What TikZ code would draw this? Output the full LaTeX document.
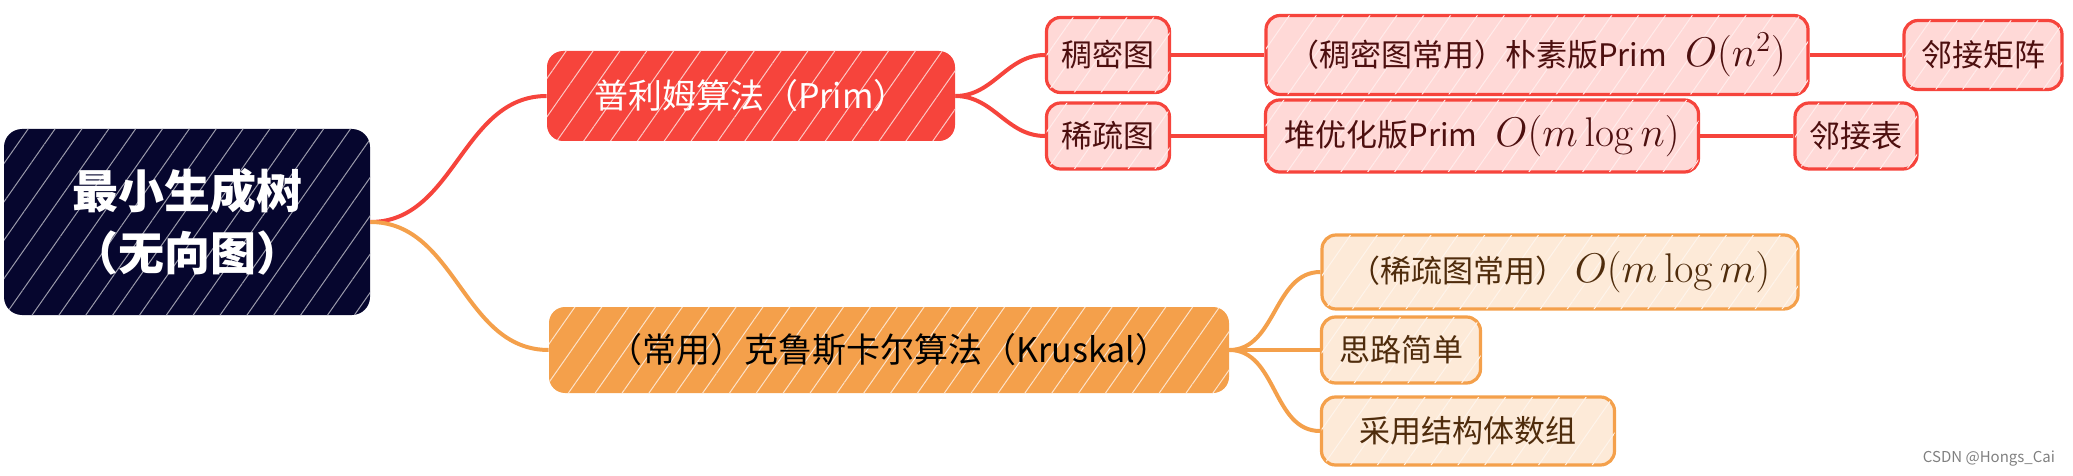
\documentclass[tikz,border=0pt]{standalone}
\usepackage[no-math]{fontspec}
\setmainfont{Noto Sans CJK SC}
\usepackage{amsmath}
\usetikzlibrary{patterns.meta}

\definecolor{rootblue}{HTML}{06062E}
\definecolor{primred}{HTML}{F6443C}
\definecolor{krusorange}{HTML}{F4A04B}
\definecolor{pinkfill}{HTML}{FFD9D7}
\definecolor{peachfill}{HTML}{FDEAD8}
\definecolor{redtext}{HTML}{4D0F0F}
\definecolor{orangetext}{HTML}{4F2C0C}

\newcommand{\cplx}[2][20]{{\fontsize{#1}{24}\selectfont$O(#2)$}}

\begin{document}
\begin{tikzpicture}[x=0.5pt,y=-0.5pt,
    hatch/.style={postaction={pattern={Lines[angle=55,distance=11pt,line width=0.5pt]},pattern color=#1}},
    rootbox/.style={fill=rootblue,rounded corners=9pt,text=white,align=center,
      font=\fontsize{23}{31}\selectfont\bfseries,minimum width=183pt,minimum height=93pt,
      hatch=white!60!rootblue},
    mainbox/.style={fill=#1,rounded corners=8pt,minimum height=45pt,
      font=\fontsize{17}{20}\selectfont,hatch=white!70!#1},
    leafbox/.style={draw=#1,line width=1.6pt,rounded corners=7pt,inner sep=0pt,
      font=\fontsize{15.5}{18}\selectfont},
    redleaf/.style={leafbox=primred,fill=pinkfill,text=redtext,hatch=white!50!pinkfill},
    orangeleaf/.style={leafbox=krusorange,fill=peachfill,text=orangetext,hatch=white!50!peachfill},
    redline/.style={draw=primred,line width=2pt},
    orangeline/.style={draw=krusorange,line width=2pt}]
  \useasboundingbox (0,0) rectangle (2073,476);
  % Draw the root and the two algorithms
  \node[rootbox] (root) at (187,222) {最小生成树\\（无向图）};
  \node[mainbox=primred,text=white,minimum width=204pt] (prim) at (751,96) {普利姆算法（Prim）};
  \node[mainbox=krusorange,text=black,minimum width=340pt,minimum height=43pt] (kruskal) at (889,350)
    {（常用）克鲁斯卡尔算法（Kruskal）};
  % Draw the Prim leaves
  \node[redleaf,minimum width=61.5pt,minimum height=37.5pt] (dense) at (1108,55) {稠密图};
  \node[redleaf,minimum width=271pt,minimum height=39.5pt] (naive) at (1537,55)
    {（稠密图常用）朴素版Prim\hspace{9pt}\cplx{n^2}};
  \node[redleaf,minimum width=79pt,minimum height=34.5pt] (matrix) at (1983,55) {邻接矩阵};
  \node[redleaf,minimum width=61.5pt,minimum height=33pt] (sparse) at (1108,136) {稀疏图};
  \node[redleaf,minimum width=216.5pt,minimum height=36pt] (heap) at (1482,136)
    {堆优化版Prim\hspace{9pt}\cplx{m\log n}};
  \node[redleaf,minimum width=61pt,minimum height=33pt] (adjlist) at (1856,136) {邻接表};
  % Draw the Kruskal leaves
  \node[orangeleaf,minimum width=238pt,minimum height=37pt] (kfirst) at (1560,272)
    {（稀疏图常用）\hspace{4pt}\cplx[21]{m\log m}};
  \node[orangeleaf,minimum width=79.5pt,minimum height=33pt] (simple) at (1401,350) {思路简单};
  \node[orangeleaf,minimum width=146.5pt,minimum height=34pt] (struct) at (1468,431) {采用结构体数组};
  % Draw the branches
  \draw[redline] (root.east) to[out=0,in=180] (prim.west);
  \draw[orangeline] (root.east) to[out=0,in=180] (kruskal.west);
  \foreach \leaf in {dense,sparse}{
    \draw[redline] (prim.east) to[out=0,in=180] (\leaf.west);
  }
  \foreach \leaf in {kfirst,simple,struct}{
    \draw[orangeline] (kruskal.east) to[out=0,in=180] (\leaf.west);
  }
  \foreach \a/\b in {dense/naive,naive/matrix,sparse/heap,heap/adjlist}{
    \draw[redline] (\a) -- (\b);
  }
  % Watermark
  \node[text=gray,font=\fontsize{7.5}{9}\selectfont,anchor=east] (mark) at (2062,459) {CSDN @Hongs\_Cai};
\end{tikzpicture}
\end{document}
